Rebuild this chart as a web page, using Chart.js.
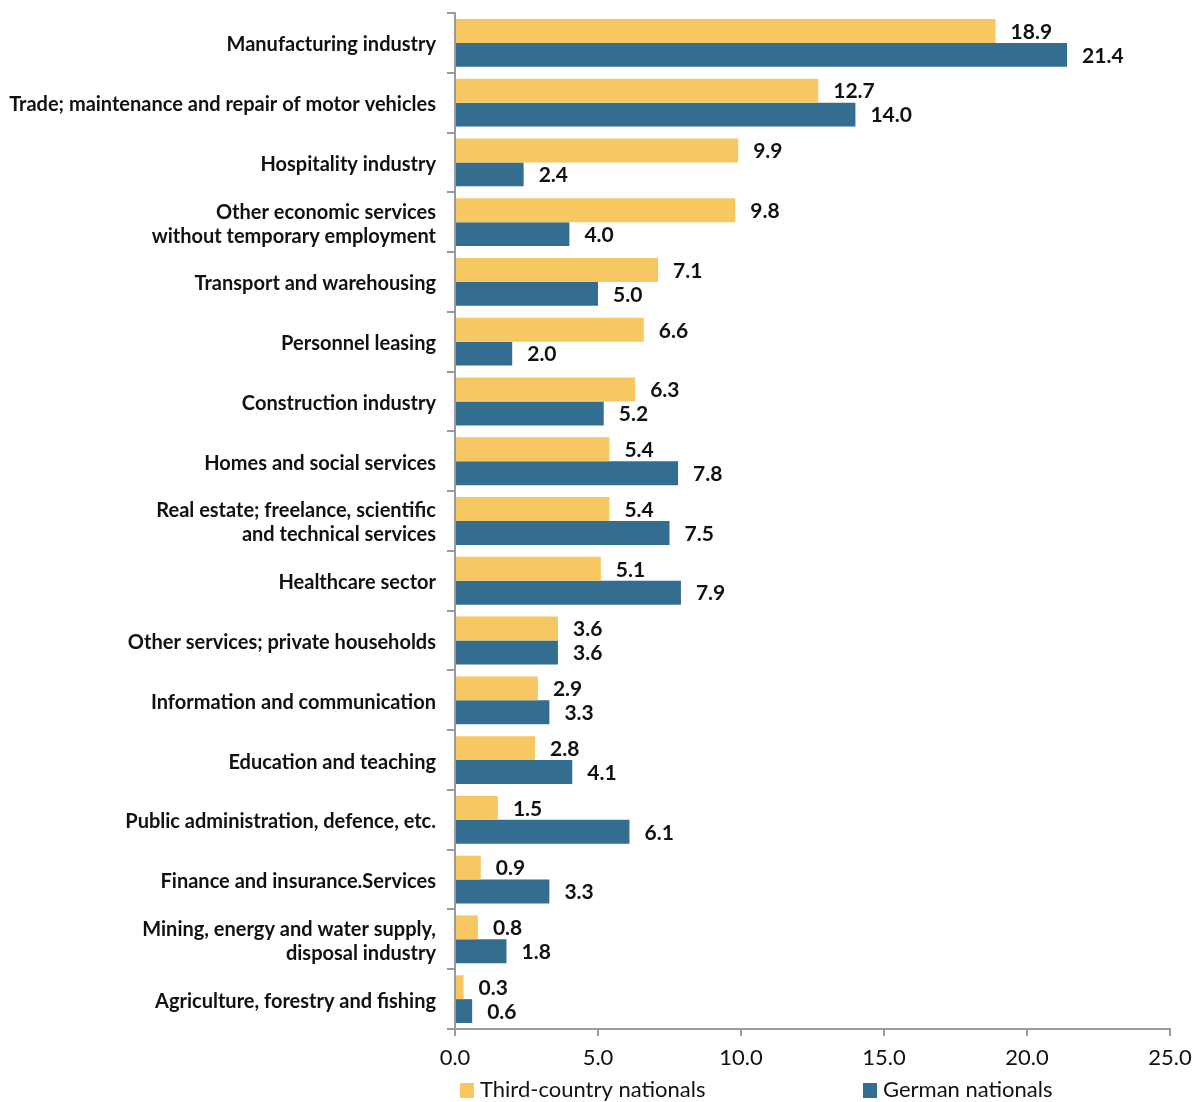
<!DOCTYPE html>
<html>
<head>
<meta charset="utf-8">
<script src="https://cdn.jsdelivr.net/npm/chart.js@4"></script>
<style>
  html, body { margin: 0; padding: 0; background: #fff; }
  #wrap { width: 1197px; height: 1102px; position: relative; }
</style>
</head>
<body>
<div id="wrap"><canvas id="myChart" width="1197" height="1102"></canvas></div>
<script>
// Datos
const categories = [
    'Manufacturing industry',
    'Trade; maintenance and repair of motor vehicles',
    'Hospitality industry',
    ['Other economic services', 'without temporary employment'],
    'Transport and warehousing',
    'Personnel leasing',
    'Construction industry',
    'Homes and social services',
    ['Real estate; freelance, scientific', 'and technical services'],
    'Healthcare sector',
    'Other services; private households',
    'Information and communication',
    'Education and teaching',
    'Public administration, defence, etc.',
    'Finance and insurance.Services',
    ['Mining, energy and water supply,', 'disposal industry'],
    'Agriculture, forestry and fishing'
];
const thirdCountry = [18.9, 12.7, 9.9, 9.8, 7.1, 6.6, 6.3, 5.4, 5.4, 5.1, 3.6, 2.9, 2.8, 1.5, 0.9, 0.8, 0.3];
const germanNat    = [21.4, 14.0, 2.4, 4.0, 5.0, 2.0, 5.2, 7.8, 7.5, 7.9, 3.6, 3.3, 4.1, 6.1, 3.3, 1.8, 0.6];
const xTicks = [0, 5, 10, 15, 20, 25];
const seriesNames = ['Third-country nationals', 'German nationals'];

const YELLOW = '#f7c762';
const BLUE = '#336e90';
const FONT = 'Lato';

// etiquetas de valores
const valueLabels = {
    id: 'valueLabels',
    afterDatasetsDraw(chart) {
        const ctx = chart.ctx;
        ctx.save();
        ctx.font = 'bold 21px ' + FONT;
        ctx.fillStyle = '#111';
        ctx.textBaseline = 'middle';
        ctx.textAlign = 'left';
        chart.data.datasets.forEach((ds, i) => {
            chart.getDatasetMeta(i).data.forEach((bar, j) => {
                ctx.fillText(ds.data[j].toFixed(1), bar.x + 15, bar.y + 1);
            });
        });
        ctx.restore();
    }
};

// leyenda abajo
const bottomLegend = {
    id: 'bottomLegend',
    afterDraw(chart) {
        const ctx = chart.ctx;
        const items = [
            {x: 460, color: YELLOW, text: seriesNames[0]},
            {x: 863, color: BLUE, text: seriesNames[1]}
        ];
        ctx.save();
        ctx.font = '22px ' + FONT;
        ctx.textBaseline = 'middle';
        items.forEach(it => {
            ctx.fillStyle = it.color;
            ctx.fillRect(it.x, 1083, 14, 15);
            ctx.fillStyle = '#111';
            ctx.fillText(it.text, it.x + 20, 1090);
        });
        ctx.restore();
    }
};

const ctx = document.getElementById('myChart');

new Chart(ctx, {
    type: 'bar',
    data: {
        labels: categories,
        datasets: [{
            label: seriesNames[0],
            data: thirdCountry,
            backgroundColor: YELLOW,
            categoryPercentage: 0.8,
            barPercentage: 1.0
        }, {
            label: seriesNames[1],
            data: germanNat,
            backgroundColor: BLUE,
            categoryPercentage: 0.8,
            barPercentage: 1.0
        }]
    },
    options: {
        indexAxis: 'y',
        responsive: false,
        animation: false,
        layout: { padding: { top: 13, right: 27, bottom: 0, left: 0 } },
        plugins: {
            legend: { display: false },
            tooltip: { enabled: false }
        },
        scales: {
            x: {
                min: 0,
                max: 25,
                afterBuildTicks: (scale) => { scale.ticks = xTicks.map(v => ({value: v})); },
                afterFit: (scale) => {
                    scale.height = 73;
                    scale.paddingLeft = 0;
                    scale.paddingRight = 0;
                },
                border: { color: '#9a9a9a', width: 2 },
                grid: { drawOnChartArea: false, tickLength: 7, color: '#9a9a9a', lineWidth: 2 },
                ticks: {
                    color: '#111',
                    font: { family: FONT, size: 22 },
                    padding: 9,
                    callback: (v) => Number(v).toFixed(1)
                }
            },
            y: {
                afterFit: (scale) => {
                    scale.width = 455;
                    scale.paddingTop = 0;
                    scale.paddingBottom = 0;
                },
                border: { color: '#9a9a9a', width: 2 },
                grid: { drawOnChartArea: false, tickLength: 8, color: '#9a9a9a', lineWidth: 2, offset: true },
                ticks: {
                    color: '#111',
                    font: { family: FONT, size: 20, weight: 'bold', lineHeight: 1.2 },
                    padding: 11,
                    labelOffset: 2,
                    autoSkip: false
                }
            }
        }
    },
    plugins: [valueLabels, bottomLegend]
});
</script>
</body>
</html>
